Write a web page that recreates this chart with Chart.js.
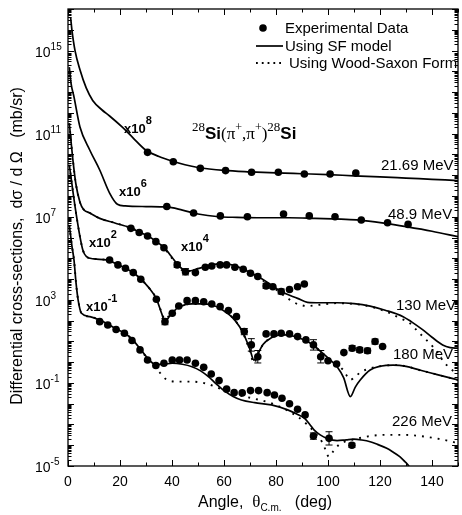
<!DOCTYPE html>
<html>
<head>
<meta charset="utf-8">
<script src="https://cdn.jsdelivr.net/npm/chart.js@4.4.1/dist/chart.umd.min.js"></script>
<style>
  html, body { margin: 0; padding: 0; background: #fff; }
  #wrap { width: 462px; height: 515px; }
</style>
</head>
<body>
<div id="wrap"><canvas id="chart" width="462" height="515"></canvas></div>
<script>
// 28Si(pi+,pi+)28Si elastic scattering - values as log10(d sigma / d Omega)

// axis ticks
const xTickLabels = [0, 20, 40, 60, 80, 100, 120, 140];
const yLabelExps = [-5, -1, 3, 7, 11, 15];

// 21.69 MeV (x10^8)
const exp21Angle = [30.6, 40.5, 50.9, 60.6, 70.6, 80.9, 90.9, 100.8, 110.7];
const exp21Log = [10.1, 9.65, 9.33, 9.22, 9.14, 9.14, 9.06, 9.06, 9.1];
const exp21Err = [0, 0, 0, 0, 0, 0, 0, 0, 0];
const sf21Angle = [1.0, 1.5, 2.7, 4.6, 7, 9.5, 13, 16, 21, 25, 30, 35, 40, 45, 50, 60, 70, 80, 90, 100, 110, 120, 130, 140, 150];
const sf21Log = [16.6, 16.0, 15.0, 14.07, 13.2, 12.6, 12.15, 11.85, 11.3, 10.8, 10.2, 9.9, 9.68, 9.5, 9.37, 9.23, 9.16, 9.11, 9.07, 9.03, 8.97, 8.92, 8.86, 8.8, 8.74];

// 48.9 MeV (x10^6)
const exp48Angle = [38, 48.3, 58.6, 69, 82.9, 92.8, 102.7, 112.8, 122.9, 130.8];
const exp48Log = [7.49, 7.18, 7.04, 7.0, 7.13, 7.04, 7.0, 6.84, 6.71, 6.63];
const exp48Err = [0, 0, 0, 0, 0, 0, 0, 0, 0, 0];
const sf48Angle = [0.5, 1.2, 2.3, 4.6, 8.4, 12.2, 16, 19, 22, 30, 38, 44, 50, 58, 65, 75, 85, 95, 105, 112, 122, 130, 140, 150];
const sf48Log = [14.2, 13.4, 12.77, 11.32, 10.2, 9.25, 8.14, 7.6, 7.52, 7.49, 7.47, 7.32, 7.13, 7.0, 6.97, 6.95, 6.95, 6.92, 6.88, 6.84, 6.68, 6.52, 6.3, 6.04];

// 130 MeV (x10^4)
const exp130Angle = [24.2, 27.4, 30.6, 33.8, 36.9, 42, 45.2, 49, 52.8, 55.3, 58.5, 61, 64.2, 67.4, 70.2, 73, 76.2, 78.8, 82, 85.2, 88.3, 90.9];
const exp130Log = [6.44, 6.24, 6.07, 5.8, 5.51, 4.68, 4.35, 4.31, 4.57, 4.63, 4.68, 4.68, 4.57, 4.47, 4.28, 4.12, 3.67, 3.63, 3.4, 3.5, 3.63, 3.76];
const exp130Err = [0, 0, 0, 0, 0, 0.12, 0.15, 0, 0, 0, 0, 0, 0, 0, 0, 0, 0.12, 0, 0.12, 0, 0, 0];
const sf130Angle = [0.5, 2, 3, 4.6, 6, 8.4, 12.2, 18, 24.2, 27.4, 30.6, 33.8, 36.9, 40, 42, 44.5, 47, 50, 55, 60.4, 65, 70, 73, 76, 82, 88.3, 92.1, 97, 103.5, 110, 116.2, 122, 128.9, 132, 136.5, 140, 144.1, 147, 150];
const sf130Log = [11.5, 9.6, 8.6, 7.7, 7.35, 7.18, 6.92, 6.7, 6.46, 6.26, 6.08, 5.82, 5.52, 5.05, 4.72, 4.45, 4.4, 4.5, 4.68, 4.74, 4.6, 4.32, 4.12, 3.9, 3.4, 3.07, 2.88, 2.86, 2.86, 2.82, 2.7, 2.5, 2.19, 1.95, 1.55, 1.2, 0.83, 0.7, 0.67];
const ws130Angle = [0.5, 2, 3, 4.6, 6, 8.4, 12.2, 18, 24.2, 30.6, 36.9, 40, 42, 44.5, 47, 50, 55, 60.4, 65, 70, 76, 80, 84.5, 88.3, 92.1, 96, 103.5, 110, 116.2, 122, 128, 131.4, 134.6, 137.8, 142.6, 144, 147, 150];
const ws130Log = [11.5, 9.6, 8.6, 7.7, 7.35, 7.18, 6.92, 6.7, 6.46, 6.08, 5.5, 5.0, 4.65, 4.4, 4.38, 4.5, 4.68, 4.72, 4.58, 4.3, 3.85, 3.5, 3.07, 2.8, 2.7, 2.75, 2.84, 2.8, 2.68, 2.45, 2.1, 1.88, 1.47, 1.07, 0.4, 0.1, -0.3, -0.6];

// 180 MeV (x10^2)
const exp180Angle = [16, 19.2, 22.1, 25.1, 28, 34, 37.3, 40.1, 42.6, 45.8, 49, 52.2, 55.3, 58.5, 61.7, 64.8, 67.8, 70.5, 73, 76.2, 79.2, 82, 85.2, 88.3, 91.5, 94.4, 97.2, 100, 103.3, 106.1, 109.3, 112.2, 115.2, 118.1, 121];
const exp180Log = [4.92, 4.68, 4.52, 4.31, 3.99, 3.03, 1.95, 2.35, 2.7, 2.96, 2.96, 2.91, 2.8, 2.67, 2.48, 2.19, 1.47, 0.83, 0.26, 1.36, 1.36, 1.39, 1.36, 1.23, 1.07, 0.83, 0.26, 0.07, -0.09, 0.46, 0.67, 0.59, 0.55, 0.99, 0.75];
const exp180Err = [0, 0, 0, 0, 0, 0, 0.15, 0, 0, 0, 0, 0, 0, 0, 0, 0, 0.15, 0.3, 0.3, 0, 0, 0, 0, 0, 0, 0.25, 0.3, 0, 0, 0, 0.12, 0.12, 0.12, 0.12, 0];
const sf180Angle = [0.5, 1.8, 2.7, 4.6, 5.7, 7.1, 10, 14.7, 19.2, 22.1, 25.1, 28, 31, 34, 36, 37.3, 39, 42, 45, 47.7, 51, 55.3, 59, 62.9, 66, 68, 70, 71.5, 73, 75, 78.2, 81, 84.5, 88, 90.9, 94, 97.2, 100, 103.5, 106, 108.6, 110.5, 112.4, 116.2, 120, 125.1, 130, 135.2, 142, 150];
const sf180Log = [9.5, 8.3, 7.5, 6.04, 5.4, 5.08, 4.97, 4.92, 4.7, 4.52, 4.3, 4.0, 3.6, 3.05, 2.35, 1.95, 2.2, 2.6, 2.76, 2.8, 2.8, 2.75, 2.55, 2.19, 1.7, 1.23, 0.6, 0.1, 0.4, 0.85, 1.17, 1.3, 1.31, 1.2, 1.07, 0.85, 0.51, 0.2, -0.22, -0.75, -1.66, -1.2, -0.86, -0.38, -0.2, -0.14, -0.2, -0.38, -0.6, -0.86];
const ws180Angle = [0.5, 1.8, 2.7, 4.6, 5.7, 7.1, 10, 14.7, 19.2, 22.1, 25.1, 28, 31, 34, 36, 37.3, 39, 42, 45, 47.7, 51, 55.3, 59, 62.9, 66, 68, 70, 71.5, 73, 75, 78.2, 81, 84.5, 88, 90.9, 94, 97.2, 100, 103.5, 106, 108.6, 110.5, 112.4, 116.2, 120, 125.1, 130, 135.2, 142, 150];
const ws180Log = [9.5, 8.3, 7.5, 6.04, 5.4, 5.08, 4.97, 4.92, 4.7, 4.52, 4.3, 4.0, 3.6, 3.05, 2.4, 2.05, 2.25, 2.6, 2.76, 2.8, 2.8, 2.75, 2.55, 2.19, 1.7, 1.2, 0.5, -0.05, 0.35, 0.85, 1.17, 1.3, 1.31, 1.2, 1.07, 0.85, 0.51, 0.2, -0.1, -0.4, -0.85, -0.7, -0.5, -0.3, -0.2, -0.14, -0.2, -0.38, -0.6, -0.86];

// 226 MeV (x10^-1)
const exp226Angle = [12.2, 15.3, 18.5, 21.7, 24.6, 27.7, 30.6, 33.8, 36.9, 40.1, 42.9, 45.8, 49, 52.2, 55.1, 58.1, 61, 63.9, 67, 70.2, 73.3, 76.6, 79.4, 82.3, 85.2, 88.3, 91.2, 94.4, 100.4, 109.2];
const exp226Log = [1.95, 1.79, 1.57, 1.39, 1.04, 0.59, 0.1, -0.16, -0.05, 0.1, 0.1, 0.1, -0.05, -0.25, -0.57, -0.89, -1.3, -1.47, -1.48, -1.37, -1.37, -1.47, -1.58, -1.74, -2.0, -2.27, -2.54, -3.56, -3.67, -4.0];
const exp226Err = [0, 0, 0, 0, 0, 0, 0, 0, 0, 0, 0, 0, 0, 0, 0, 0, 0, 0, 0, 0, 0, 0, 0, 0, 0, 0, 0, 0.15, 0.32, 0.1];
const sf226Angle = [0.5, 1.5, 2.3, 3.1, 3.9, 5.2, 8.4, 12.2, 15.3, 18.5, 21.7, 24.9, 28, 30.9, 33.8, 37, 40.1, 44, 47.7, 51, 54, 57, 60.4, 63.5, 66.7, 71.8, 78.2, 84.5, 88, 90.9, 93, 94.7, 97, 99.7, 103.5, 107, 109.9, 113, 116.2, 119, 122.6, 125, 127.6, 129.5, 130.8, 131.5];
const sf226Log = [6.6, 5.6, 4.92, 3.8, 2.99, 2.35, 2.19, 2.03, 1.84, 1.6, 1.4, 1.07, 0.6, 0.15, -0.12, -0.1, -0.05, -0.1, -0.22, -0.42, -0.7, -1.05, -1.41, -1.65, -1.82, -1.95, -2.06, -2.3, -2.5, -2.7, -3.0, -3.27, -3.5, -3.67, -3.78, -3.74, -3.71, -3.75, -3.83, -3.96, -4.15, -4.33, -4.55, -4.78, -4.95, -5.1];
const ws226Angle = [0.5, 1.5, 2.3, 3.1, 3.9, 5.2, 8.4, 12.2, 15.3, 18.5, 21.7, 24.9, 28, 30.9, 33, 35, 38.2, 42.6, 47.7, 52.8, 56.6, 62.9, 68, 73, 78.2, 84, 88, 92, 95, 98, 100.4, 102, 104, 106, 109.9, 116.2, 122, 128.9, 135, 141.6, 146, 150];
const ws226Log = [6.6, 5.6, 4.92, 3.8, 2.99, 2.35, 2.19, 2.03, 1.84, 1.6, 1.4, 1.07, 0.6, 0.1, -0.2, -0.46, -0.86, -0.94, -0.94, -1.02, -1.18, -1.5, -1.66, -1.8, -1.98, -2.3, -2.6, -3.0, -3.4, -3.9, -4.55, -4.3, -4.0, -3.85, -3.72, -3.56, -3.5, -3.5, -3.55, -3.67, -3.78, -3.9];

// labels
const energyLabels = ['21.69 MeV', '48.9 MeV', '130 MeV', '180 MeV', '226 MeV'];
const scaleExps = ['8', '6', '2', '4', '-1'];
const legendLabels = ['Experimental Data', 'Using SF model', 'Using Wood-Saxon Form'];

const SANS = '"Liberation Sans", Arial, sans-serif';
const SERIF = '"Liberation Serif", "Times New Roman", serif';

const toPoints = (angles, logs) => angles.map((a, i) => ({ x: a, y: Math.pow(10, logs[i]) }));

function curve(angles, logs, dotted) {
    return {
        data: toPoints(angles, logs),
        showLine: true,
        pointRadius: 0,
        borderColor: '#000',
        borderWidth: dotted ? 1.9 : 1.7,
        borderDash: dotted ? [1.9, 6] : [],
        cubicInterpolationMode: 'monotone',
        fill: false
    };
}

function expData(angles, logs, err) {
    return {
        data: toPoints(angles, logs),
        errLog: err,
        showLine: false,
        pointRadius: 3.8,
        pointStyle: 'circle',
        backgroundColor: '#000',
        borderColor: '#000',
        borderWidth: 0
    };
}

// draws a run of text pieces one after another: [text, font, dy]
function drawRich(ctx, parts, x, y) {
    ctx.textBaseline = 'alphabetic';
    ctx.textAlign = 'left';
    let cx = x;
    for (const [t, font, dy] of parts) {
        ctx.font = font;
        ctx.fillText(t, cx, y + (dy || 0));
        cx += ctx.measureText(t).width;
    }
}

const errorBars = {
    id: 'errorBars',
    afterDatasetsDraw(chart) {
        const { ctx, scales: { x, y } } = chart;
        ctx.save();
        ctx.strokeStyle = '#000';
        ctx.lineWidth = 1;
        chart.data.datasets.forEach(ds => {
            if (!ds.errLog) return;
            ds.data.forEach((p, i) => {
                const e = ds.errLog[i];
                if (!e) return;
                const lg = Math.log10(p.y);
                const px = x.getPixelForValue(p.x);
                const y1 = y.getPixelForValue(Math.pow(10, lg + e));
                const y2 = y.getPixelForValue(Math.pow(10, lg - e));
                ctx.beginPath();
                ctx.moveTo(px, y1); ctx.lineTo(px, y2);
                ctx.moveTo(px - 3.5, y1); ctx.lineTo(px + 3.5, y1);
                ctx.moveTo(px - 3.5, y2); ctx.lineTo(px + 3.5, y2);
                ctx.stroke();
            });
        });
        ctx.restore();
    }
};

const frame = {
    id: 'frame',
    afterDraw(chart) {
        const { ctx, chartArea: a, scales: { x, y } } = chart;
        ctx.save();
        ctx.fillStyle = '#000';
        ctx.strokeStyle = '#000';
        ctx.lineWidth = 1.3;
        ctx.strokeRect(a.left, a.top, a.right - a.left, a.bottom - a.top);

        // inward ticks, x
        ctx.lineWidth = 1;
        ctx.beginPath();
        for (let v = 0; v <= 150; v += 10) {
            const px = Math.round(x.getPixelForValue(v)) + 0.5;
            const len = v % 20 === 0 ? 6 : 3.5;
            ctx.moveTo(px, a.bottom); ctx.lineTo(px, a.bottom - len);
            ctx.moveTo(px, a.top); ctx.lineTo(px, a.top + len);
        }
        // inward ticks, y (log)
        for (let e = -5; e <= 17; e++) {
            for (let m = 1; m <= 9; m++) {
                const val = m * Math.pow(10, e);
                if (val > 1e17) break;
                const py = Math.round(y.getPixelForValue(val)) + 0.5;
                const len = m === 1 ? 6 : 3.5;
                ctx.moveTo(a.left, py); ctx.lineTo(a.left + len, py);
                ctx.moveTo(a.right, py); ctx.lineTo(a.right - len, py);
            }
        }
        ctx.stroke();

        // x tick labels
        ctx.font = '14px ' + SANS;
        ctx.textAlign = 'center';
        ctx.textBaseline = 'middle';
        xTickLabels.forEach(v => ctx.fillText(String(v), x.getPixelForValue(v), 482));

        // y tick labels 10^n
        yLabelExps.forEach(e => {
            const py = y.getPixelForValue(Math.pow(10, e));
            drawRich(ctx, [['10', '14px ' + SANS, 0], [String(e), '10px ' + SANS, -7]], 35, py + 6);
        });

        // axis titles
        drawRich(ctx, [['Angle,  ', '16px ' + SANS, 0], ['\u03b8', '17px ' + SERIF, 0],
            ['C.m.', '10px ' + SANS, 4], ['   (deg)', '16px ' + SANS, 0]], 198, 507);
        ctx.save();
        ctx.translate(22, 246);
        ctx.rotate(-Math.PI / 2);
        ctx.font = '16px ' + SANS;
        ctx.textAlign = 'center';
        ctx.textBaseline = 'alphabetic';
        ctx.fillText('Differential cross-sections,  d\u03c3 / d \u03a9   (mb/sr)', 0, 0);
        ctx.restore();

        // energy labels
        const ePos = [[381, 170], [388, 219], [396, 310], [393, 359], [392, 426]];
        energyLabels.forEach((t, i) => drawRich(ctx, [[t, '15px ' + SANS, 0]], ePos[i][0], ePos[i][1]));

        // scale factors
        const sPos = [[124, 133], [119, 196], [89, 247], [181, 251], [86, 311]];
        scaleExps.forEach((s, i) => drawRich(ctx, [['x10', 'bold 13px ' + SANS, 0], [s, 'bold 11px ' + SANS, -9]], sPos[i][0], sPos[i][1]));

        // reaction title
        drawRich(ctx, [
            ['28', '13px ' + SERIF, -8], ['Si', 'bold 17px ' + SANS, 0], ['(\u03c0', '17px ' + SERIF, 0],
            ['+', '12px ' + SERIF, -8], [',\u03c0', '17px ' + SERIF, 0], ['+', '12px ' + SERIF, -8],
            [')', '17px ' + SERIF, 0], ['28', '13px ' + SERIF, -8], ['Si', 'bold 17px ' + SANS, 0]
        ], 192, 139);

        // legend
        ctx.beginPath();
        ctx.arc(263, 28, 3.8, 0, Math.PI * 2);
        ctx.fill();
        ctx.lineWidth = 1.7;
        ctx.beginPath();
        ctx.moveTo(256, 46); ctx.lineTo(283, 46);
        ctx.stroke();
        ctx.lineWidth = 1.8;
        ctx.setLineDash([1.8, 4]);
        ctx.beginPath();
        ctx.moveTo(256, 63); ctx.lineTo(283, 63);
        ctx.stroke();
        ctx.setLineDash([]);
        drawRich(ctx, [[legendLabels[0], '15px ' + SANS, 0]], 285, 33);
        drawRich(ctx, [[legendLabels[1], '15px ' + SANS, 0]], 285, 51);
        drawRich(ctx, [[legendLabels[2], '15px ' + SANS, 0]], 289, 68);
        ctx.restore();
    }
};

new Chart(document.getElementById('chart'), {
    type: 'scatter',
    data: {
        datasets: [
            curve(sf21Angle, sf21Log, false),
            curve(sf48Angle, sf48Log, false),
            curve(sf130Angle, sf130Log, false),
            curve(ws130Angle, ws130Log, true),
            curve(sf180Angle, sf180Log, false),
            curve(ws180Angle, ws180Log, true),
            curve(sf226Angle, sf226Log, false),
            curve(ws226Angle, ws226Log, true),
            expData(exp21Angle, exp21Log, exp21Err),
            expData(exp48Angle, exp48Log, exp48Err),
            expData(exp130Angle, exp130Log, exp130Err),
            expData(exp180Angle, exp180Log, exp180Err),
            expData(exp226Angle, exp226Log, exp226Err)
        ]
    },
    options: {
        responsive: false,
        animation: false,
        devicePixelRatio: 1,
        layout: { padding: { top: 9, right: 1, left: 0, bottom: 0 } },
        plugins: { legend: { display: false }, tooltip: { enabled: false } },
        scales: {
            x: {
                type: 'linear', min: 0, max: 150,
                grid: { display: false, drawTicks: false },
                border: { display: false },
                ticks: { display: false },
                afterFit: s => { s.height = 49; }
            },
            y: {
                type: 'logarithmic', min: 1e-5, max: 1e17,
                grid: { display: false, drawTicks: false },
                border: { display: false },
                ticks: { display: false },
                afterFit: s => { s.width = 68; }
            }
        }
    },
    plugins: [errorBars, frame]
});
</script>
</body>
</html>
